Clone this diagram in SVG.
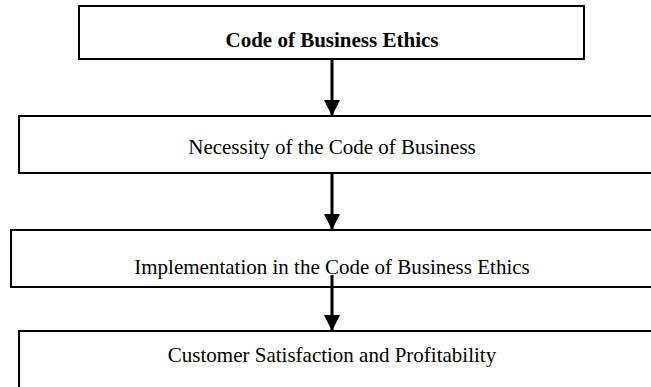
<svg xmlns="http://www.w3.org/2000/svg" width="651" height="387" viewBox="0 0 651 387">
<style>
.box{fill:#fff;stroke:#000;stroke-width:2}
.t{font-family:"Liberation Serif","Times New Roman",serif;font-size:21px;fill:#000;text-anchor:middle}
.b{font-weight:bold}
.c{stroke:#000;stroke-width:3;fill:none}
</style>
<defs>
<marker id="ah" markerUnits="userSpaceOnUse" markerWidth="16" markerHeight="16" refX="15" refY="7.5" orient="auto" viewBox="0 0 15 15">
<path d="M0,0 L15,7.5 L0,15 Z" fill="#000"/>
</marker>
</defs>
<g id="n1"><rect class="box" x="79" y="6" width="505" height="53"/><text class="t b" x="332" y="47">Code of Business Ethics</text></g>
<g id="n2"><rect class="box" x="19" y="116" width="650" height="57"/><text class="t" x="332" y="154">Necessity of the Code of Business</text></g>
<g id="n3"><rect class="box" x="11" y="230" width="660" height="57"/><text class="t" x="332" y="274">Implementation in the Code of Business Ethics</text></g>
<g id="n4"><rect class="box" x="19" y="331" width="650" height="70"/><text class="t" x="332" y="362">Customer Satisfaction and Profitability</text></g>
<g id="connectors">
<line class="c" x1="332" y1="59" x2="332" y2="116" marker-end="url(#ah)"/>
<line class="c" x1="332" y1="173" x2="332" y2="230" marker-end="url(#ah)"/>
<line class="c" x1="332" y1="275" x2="332" y2="331" marker-end="url(#ah)"/>
</g>
</svg>
